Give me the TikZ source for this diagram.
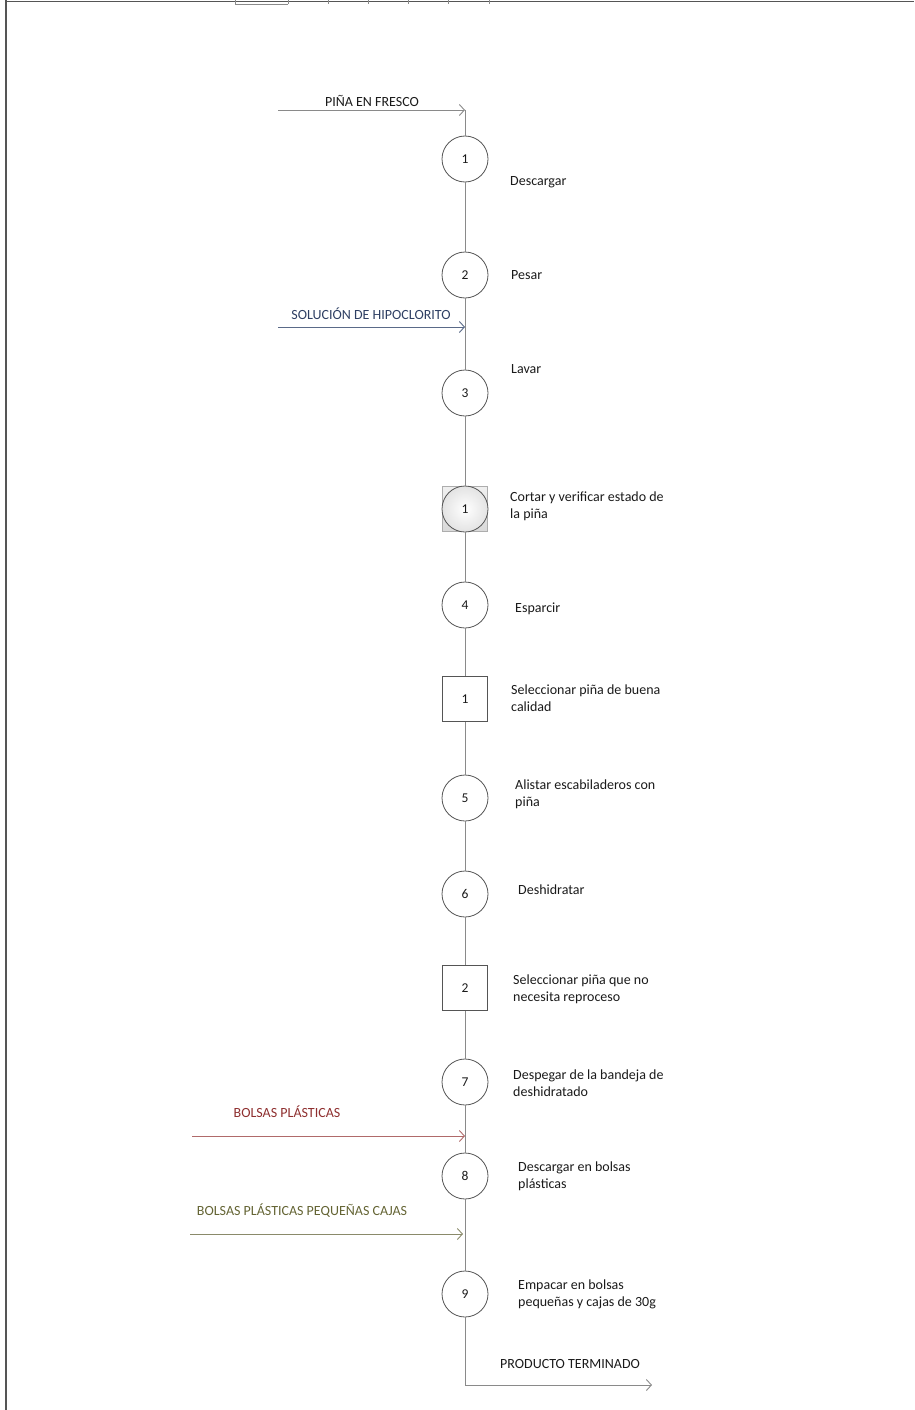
\documentclass[tikz,border=0pt]{standalone}
\usepackage{fontspec}
\setmainfont{Carlito}
\usetikzlibrary{arrows.meta}
\definecolor{lineg}{HTML}{8A8A8A}
\definecolor{edge}{HTML}{555555}
\definecolor{txt}{HTML}{1A1A1A}
\definecolor{bluet}{HTML}{2E3F63}
\definecolor{bluel}{HTML}{5A6A88}
\definecolor{redt}{HTML}{8E2F2F}
\definecolor{redl}{HTML}{B06A6A}
\definecolor{olivet}{HTML}{646434}
\definecolor{olivel}{HTML}{8A8A6A}
\tikzset{
  x=1pt, y=-1pt,
  op/.style={circle, draw=edge, line width=0.8pt, fill=white, minimum size=46pt, inner sep=0pt, font=\fontsize{13.5}{14}\selectfont, text=txt},
  insp/.style={rectangle, draw=edge, line width=0.8pt, fill=white, minimum size=45pt, inner sep=0pt, font=\fontsize{13.5}{14}\selectfont, text=txt},
  flow/.style={draw=lineg, line width=0.9pt},
  inarrow/.style={line width=0.9pt, -{Straight Barb[length=5pt,width=11pt]}},
  lab/.style={anchor=west, align=left, font=\fontsize{14}{17}\selectfont, text=txt, inner sep=0pt},
  caplab/.style={font=\fontsize{14}{15}\selectfont, inner sep=0pt}
}
\begin{document}
\begin{tikzpicture}
\useasboundingbox (0,0) rectangle (914,1410);
% page frame fragments
\draw[edge, line width=1.4pt] (6,0) -- (6,1410);
\draw[edge, line width=1pt] (6,1.5) -- (914,1.5);
\foreach \xx in {235,288,328,368,408,448,489} \draw[lineg, line width=0.6pt] (\xx,0) -- (\xx,4);
\draw[lineg, line width=1pt] (235,4.5) -- (288,4.5);

% process symbols
\node[op] (c1) at (465,159) {1};
\node[op] (c2) at (465,275) {2};
\node[op] (c3) at (465,393) {3};
\node[rectangle, draw=lineg!70, line width=0.8pt, minimum size=45pt, inner sep=0pt, top color=gray!12, bottom color=gray!30] (cs) at (465,509) {};
\node[circle, draw=edge, line width=0.8pt, minimum size=46pt, inner sep=0pt, inner color=white, outer color=gray!22, font=\fontsize{13.5}{14}\selectfont, text=txt] (c10) at (465,509) {1};
\node[op] (c4) at (465,605) {4};
\node[insp] (s1) at (465,699) {1};
\node[op] (c5) at (465,798) {5};
\node[op] (c6) at (465,894) {6};
\node[insp] (s2) at (465,988) {2};
\node[op] (c7) at (465,1082) {7};
\node[op] (c8) at (465,1176) {8};
\node[op] (c9) at (465,1294) {9};

\coordinate (top) at (465,110);
\coordinate (hyp) at (465,327);
\coordinate (bol) at (465,1136);
\coordinate (bpc) at (463,1234);
\coordinate (bot) at (465,1385);
\coordinate (out) at (652,1385);

% main flow line
\draw[flow] (top) -- (c1);
\draw[flow] (c1) -- (c2);
\draw[flow] (c2) -- (c3);
\draw[flow] (c3) -- (c10);
\draw[flow] (cs) -- (c4);
\draw[flow] (c4) -- (s1);
\draw[flow] (s1) -- (c5);
\draw[flow] (c5) -- (c6);
\draw[flow] (c6) -- (s2);
\draw[flow] (s2) -- (c7);
\draw[flow] (c7) -- (c8);
\draw[flow] (c8) -- (c9);
\draw[flow] (c9) -- (bot);
\draw[lineg, inarrow] (bot) -- (out);

% inputs
\coordinate (a0) at (278,110);
\coordinate (a1) at (278,327);
\coordinate (a2) at (192,1136);
\coordinate (a3) at (190,1234);
\draw[lineg, inarrow] (a0) -- (top);
\draw[bluel, inarrow] (a1) -- (hyp);
\draw[redl, inarrow] (a2) -- (bol);
\draw[olivel, inarrow] (a3) -- (bpc);

\node[caplab, text=txt] (t0) at (372,101) {PIÑA EN FRESCO};
\node[caplab, text=bluet] (t1) at (371,314) {SOLUCIÓN DE HIPOCLORITO};
\node[caplab, text=redt] (t2) at (287,1112) {BOLSAS PLÁSTICAS};
\node[caplab, text=olivet] (t3) at (302,1211) {BOLSAS PLÁSTICAS PEQUEÑAS CAJAS};
\node[caplab, text=txt, anchor=west] (t4) at (500,1364) {PRODUCTO TERMINADO};

% step labels
\node[lab] (l1) at (510,182) {Descargar};
\node[lab] (l2) at (511,275) {Pesar};
\node[lab] (l3) at (511,369) {Lavar};
\node[lab] (l10) at (510,506.5) {Cortar y verificar estado de\\la piña};
\node[lab] (l4) at (515,609) {Esparcir};
\node[lab] (l5) at (511,698.5) {Seleccionar piña de buena\\calidad};
\node[lab] (l6) at (515,794.5) {Alistar escabiladeros con\\piña};
\node[lab] (l7) at (518,890) {Deshidratar};
\node[lab] (l8) at (513,989.5) {Seleccionar piña que no\\necesita reproceso};
\node[lab] (l9) at (513,1083.5) {Despegar de la bandeja de\\deshidratado};
\node[lab] (l11) at (518,1176.5) {Descargar en bolsas\\plásticas};
\node[lab] (l12) at (518,1294.5) {Empacar en bolsas\\pequeñas y cajas de 30g};
\end{tikzpicture}
\end{document}
